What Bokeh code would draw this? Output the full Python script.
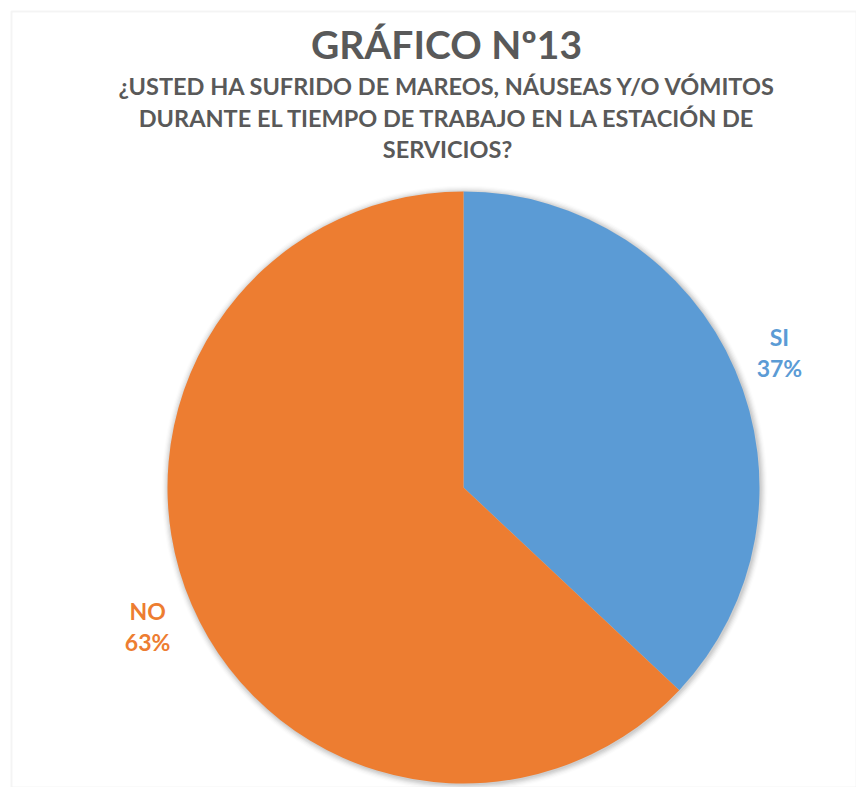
import numpy as np
from bokeh.plotting import figure
from bokeh.models import Range1d, Label, BoxAnnotation, ColumnDataSource
from bokeh.core.properties import value
from bokeh.embed import file_html
from bokeh.resources import INLINE

# ---- data ----
categories = ["SI", "NO"]
percentages = [37, 63]
colors = ["#5B9BD5", "#ED7D31"]
title_text = "GRÁFICO Nº13"
subtitle_lines = [
    "¿USTED HA SUFRIDO DE MAREOS, NÁUSEAS Y/O VÓMITOS",
    "DURANTE EL TIEMPO DE TRABAJO EN LA ESTACIÓN DE",
    "SERVICIOS?",
]

W, H = 856, 787
FONT = "Lato"
TXT = "#595959"

p = figure(width=W, height=H, output_backend="svg", toolbar_location=None,
           x_range=Range1d(0, W), y_range=Range1d(0, H),
           x_axis_type=None, y_axis_type=None, min_border=0)
p.grid.visible = False
p.outline_line_color = None
p.background_fill_color = "white"
p.border_fill_color = "white"

# chart area border
p.add_layout(BoxAnnotation(left=11, top=H - 11, fill_alpha=0,
                           line_color="#d9d9d9", line_width=2))

cx, cy, R = 463, H - 487, 296

# soft shadow
for i, a in enumerate([0.05, 0.045, 0.04, 0.03, 0.02, 0.012]):
    p.circle(x=cx + 1, y=cy - 1, radius=R + 1 + i * 1.2, fill_color="black",
             fill_alpha=a, line_color=None)

frac = np.array(percentages, dtype=float) / sum(percentages)
ends = np.pi / 2 - 2 * np.pi * np.concatenate([[0], np.cumsum(frac)[:-1]])
starts = ends - 2 * np.pi * frac
mids = (starts + ends) / 2

src = ColumnDataSource(dict(start=starts, end=ends, color=colors,
                            cat=categories,
                            lab=[f"{c}\n{v}%" for c, v in zip(categories, percentages)],
                            lx=cx + 1.163 * R * np.cos(mids),
                            ly=cy + 1.163 * R * np.sin(mids) - 2))
p.wedge(x=cx, y=cy, radius=R, start_angle="start", end_angle="end",
        fill_color="color", line_color=None, source=src)

p.text(x="lx", y="ly", text="lab", text_color="color", source=src,
       text_font=value(FONT), text_font_style="bold", text_font_size="23px",
       text_align="center", text_baseline="middle", text_line_height=1.12)

# titles
p.add_layout(Label(x=446, y=H - 43, x_units="screen", y_units="screen",
                   text=title_text, text_font=FONT, text_font_style="bold",
                   text_font_size="39px", text_color=TXT,
                   text_align="center", text_baseline="middle"))
for i, line in enumerate(subtitle_lines):
    p.add_layout(Label(x=447, y=H - 85.5 - i * 31.5, x_units="screen", y_units="screen",
                       text=line, text_font=FONT, text_font_style="bold",
                       text_font_size="23.5px", text_color=TXT,
                       text_align="center", text_baseline="middle"))

open("out.html", "w").write(file_html(p, INLINE))
